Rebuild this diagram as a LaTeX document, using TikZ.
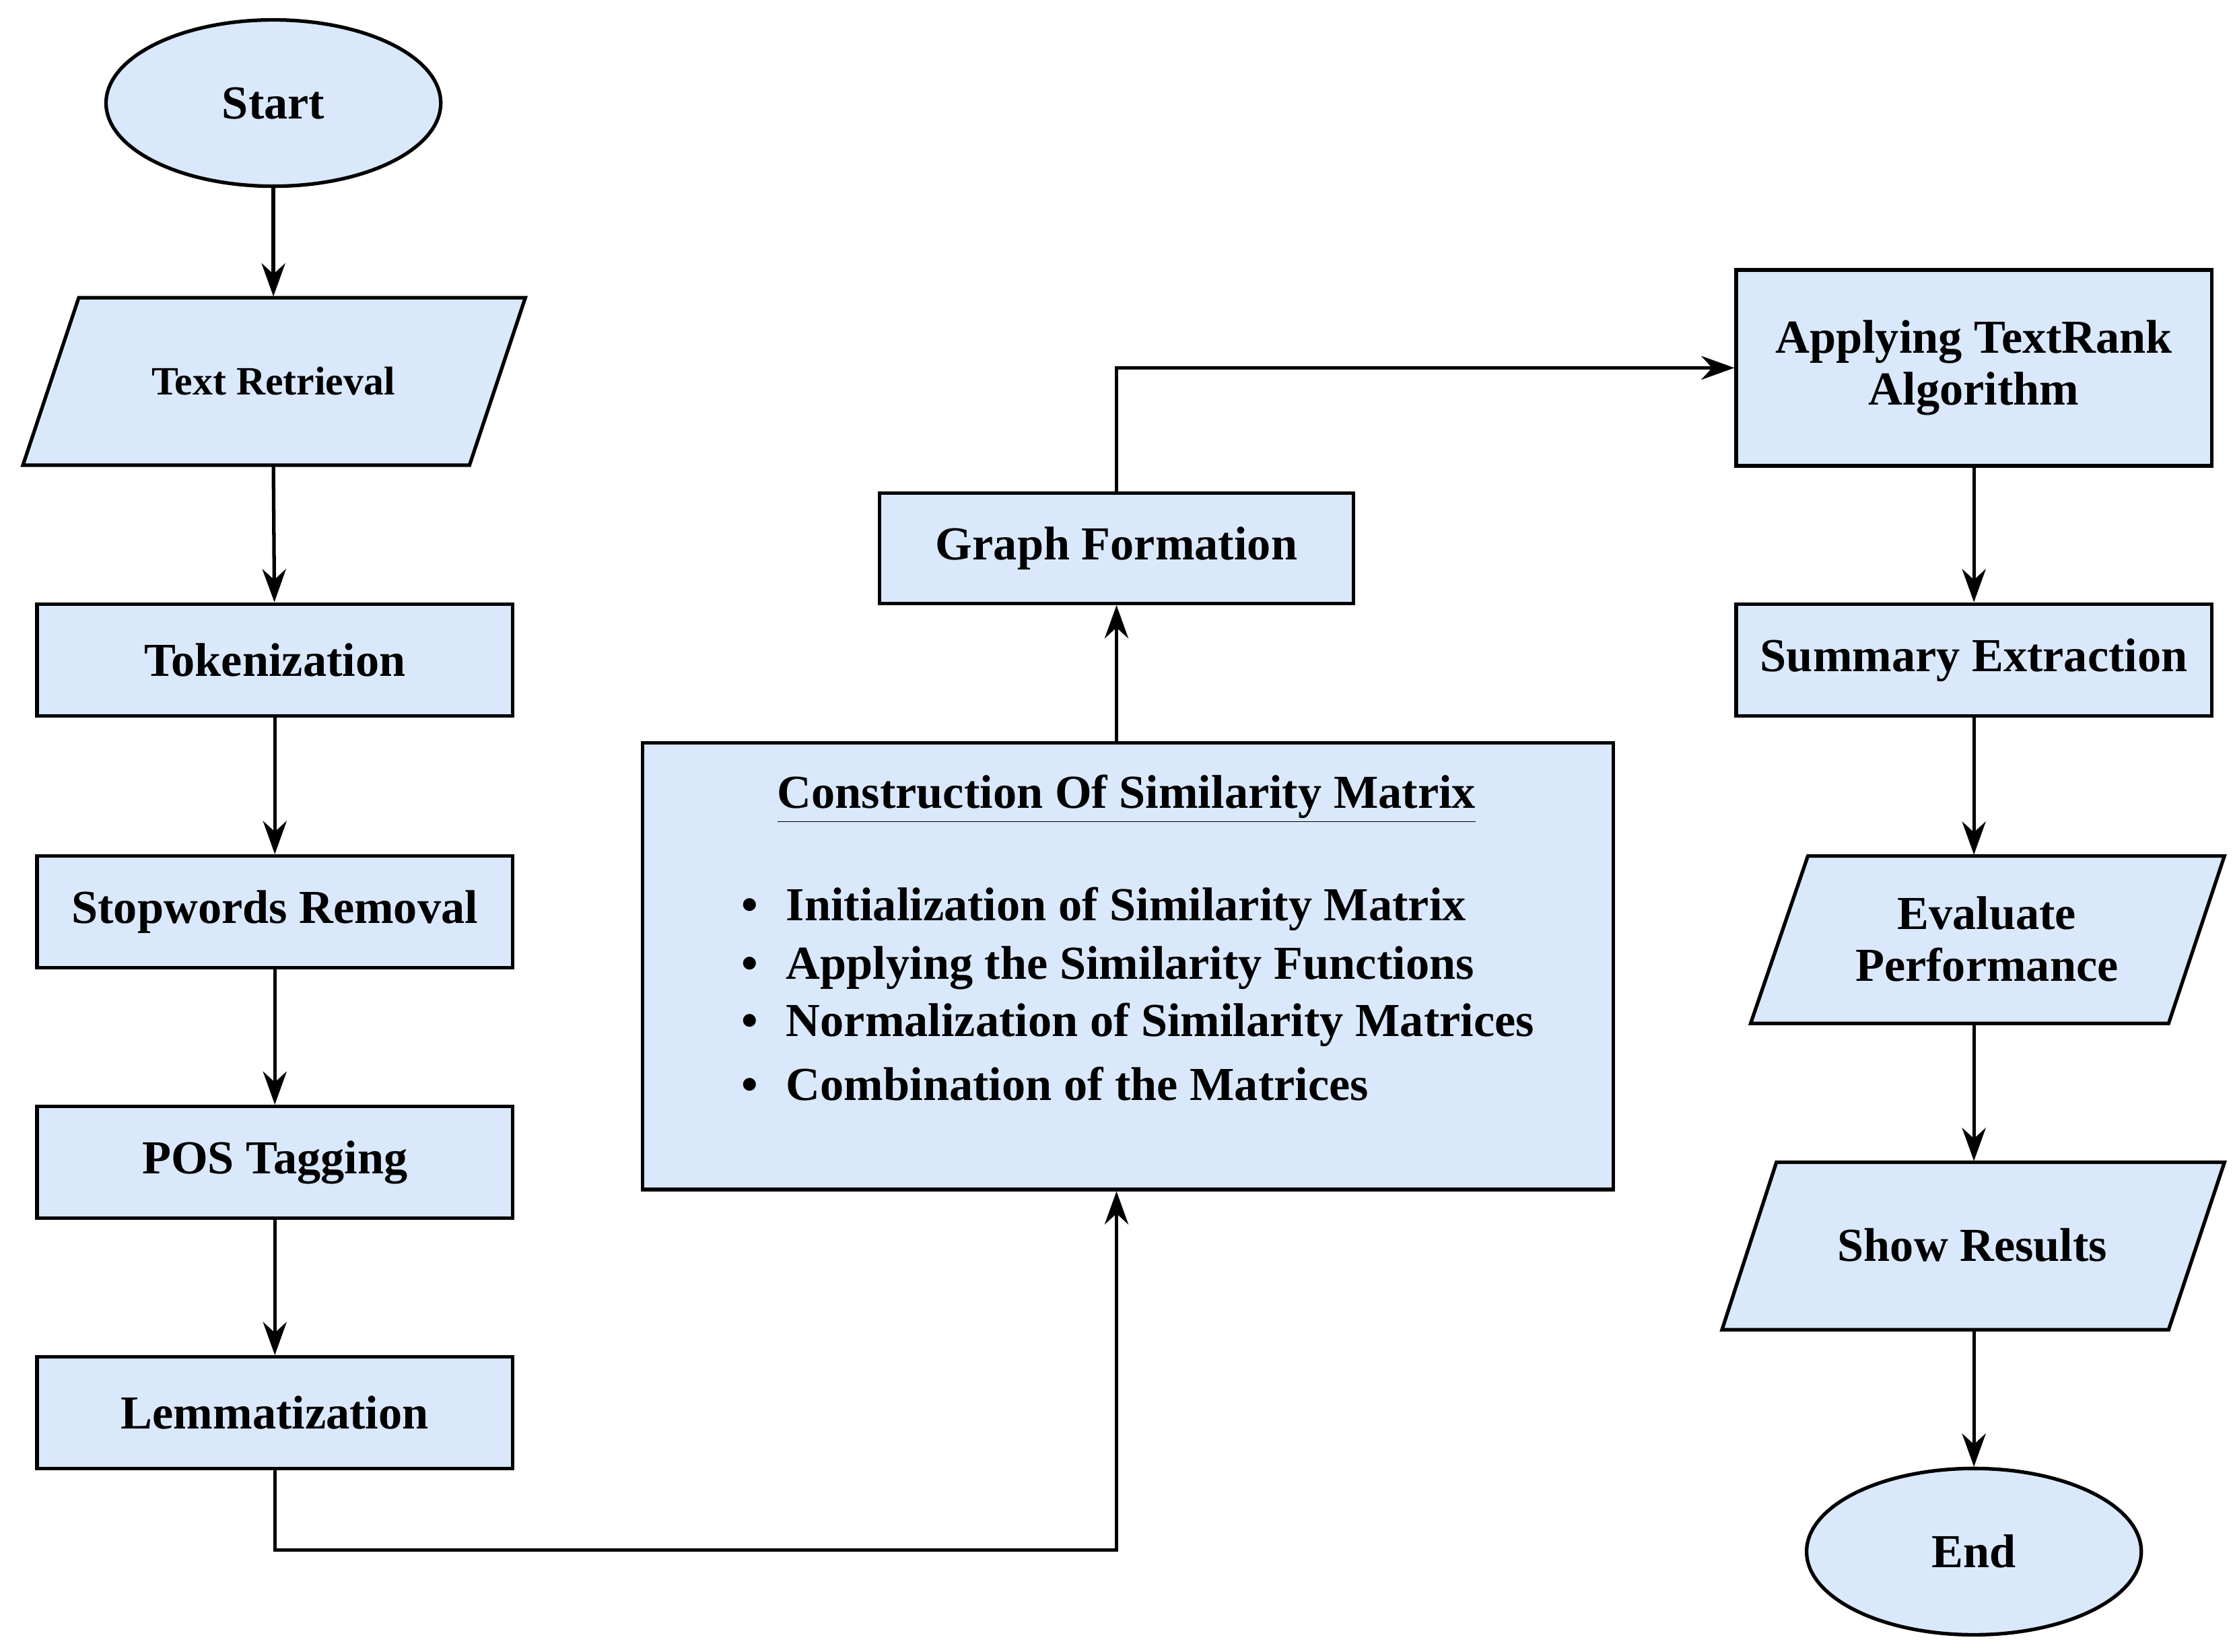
\documentclass[tikz,border=0pt]{standalone}
\usepackage{fontspec}
\setmainfont{Liberation Serif}
\usetikzlibrary{shapes.geometric,arrows.meta}
\definecolor{fillb}{HTML}{DAE8FC}
\begin{document}
\begin{tikzpicture}[x=0.02126cm,y=-0.02126cm,
  every node/.style={font=\fontsize{20}{24}\selectfont\bfseries},
  box/.style={draw,line width=1.5pt,fill=fillb,rectangle,inner sep=0pt},
  ell/.style={draw,line width=1.5pt,fill=fillb,ellipse,inner sep=0pt,minimum width=234\pgfkeysvalueof{/pgf/x}, minimum height=116\pgfkeysvalueof{/pgf/x}},
  par/.style={draw,line width=1.5pt,fill=fillb},
  arr/.style={line width=1.5pt,-{Stealth[length=14pt,width=10pt]}}]
\useasboundingbox (0,0) rectangle (1560,1154);
% left column
\node[draw,line width=1.5pt,fill=fillb,ellipse,minimum width=4.97cm,minimum height=2.47cm,inner sep=0pt] (start) at (191,72) {Start};
\draw[par] (55,208) -- (367,208) -- (328,325) -- (16,325) -- cycle;
\node[minimum width=6.63cm,minimum height=2.49cm,inner sep=0pt,font=\fontsize{17}{20}\selectfont\bfseries] (tr) at (191,266) {Text Retrieval};
\node[box,minimum width=7.06cm,minimum height=1.66cm] (tok) at (192,461) {Tokenization};
\node[box,minimum width=7.06cm,minimum height=1.66cm] (stop) at (192,637) {Stopwords Removal};
\node[box,minimum width=7.06cm,minimum height=1.66cm] (pos) at (192,812) {POS Tagging};
\node[box,minimum width=7.06cm,minimum height=1.66cm] (lem) at (192,987) {Lemmatization};
% middle
\node[box,minimum width=14.41cm,minimum height=6.63cm] (sim) at (788,675) {};
\node at (787,558) {\underline{Construction Of Similarity Matrix}};
\node[anchor=west] (b1) at (512,635) {\textbullet\hspace{0.6em}Initialization of Similarity Matrix};
\node[anchor=west] (b2) at (512,676) {\textbullet\hspace{0.6em}Applying the Similarity Functions};
\node[anchor=west] (b3) at (512,716) {\textbullet\hspace{0.6em}Normalization of Similarity Matrices};
\node[anchor=west] (b4) at (512,757) {\textbullet\hspace{0.6em}Combination of the Matrices};
\node[box,minimum width=7.04cm,minimum height=1.64cm] (graph) at (780,383) {Graph Formation};
% right column
\node[box,minimum width=7.06cm,minimum height=2.91cm,align=center] (rank) at (1379,257) {Applying TextRank\\[-2pt]Algorithm};
\node[box,minimum width=7.06cm,minimum height=1.66cm] (sum) at (1379,461) {Summary Extraction};
\draw[par] (1263,598) -- (1554,598) -- (1515,715) -- (1223,715) -- cycle;
\node[minimum width=6.2cm,minimum height=2.49cm,inner sep=0pt,align=center] (eval) at (1388,656) {Evaluate\\[-2pt]Performance};
\draw[par] (1241,812) -- (1554,812) -- (1515,929) -- (1203,929) -- cycle;
\node[minimum width=6.6cm,minimum height=2.49cm,inner sep=0pt] (show) at (1378,870) {Show Results};
\node[draw,line width=1.5pt,fill=fillb,ellipse,minimum width=4.97cm,minimum height=2.47cm,inner sep=0pt] (end) at (1379,1084) {End};
% arrows
\draw[arr] (start) -- (tr.north);
\draw[arr] (tr.south) -- (tok);
\draw[arr] (tok) -- (stop);
\draw[arr] (stop) -- (pos);
\draw[arr] (pos) -- (lem);
\draw[arr] (lem.south) |- (780,1083) -- (sim.south -| graph);
\draw[arr] (sim.north -| graph) -- (graph);
\draw[arr] (graph.north) |- (rank.west);
\draw[arr] (rank) -- (sum);
\draw[arr] (sum.south) -- (sum.south |- eval.north);
\draw[arr] (eval.south -| sum) -- (show.north -| sum);
\draw[arr] (show.south -| sum) -- (end);
\end{tikzpicture}
\end{document}
